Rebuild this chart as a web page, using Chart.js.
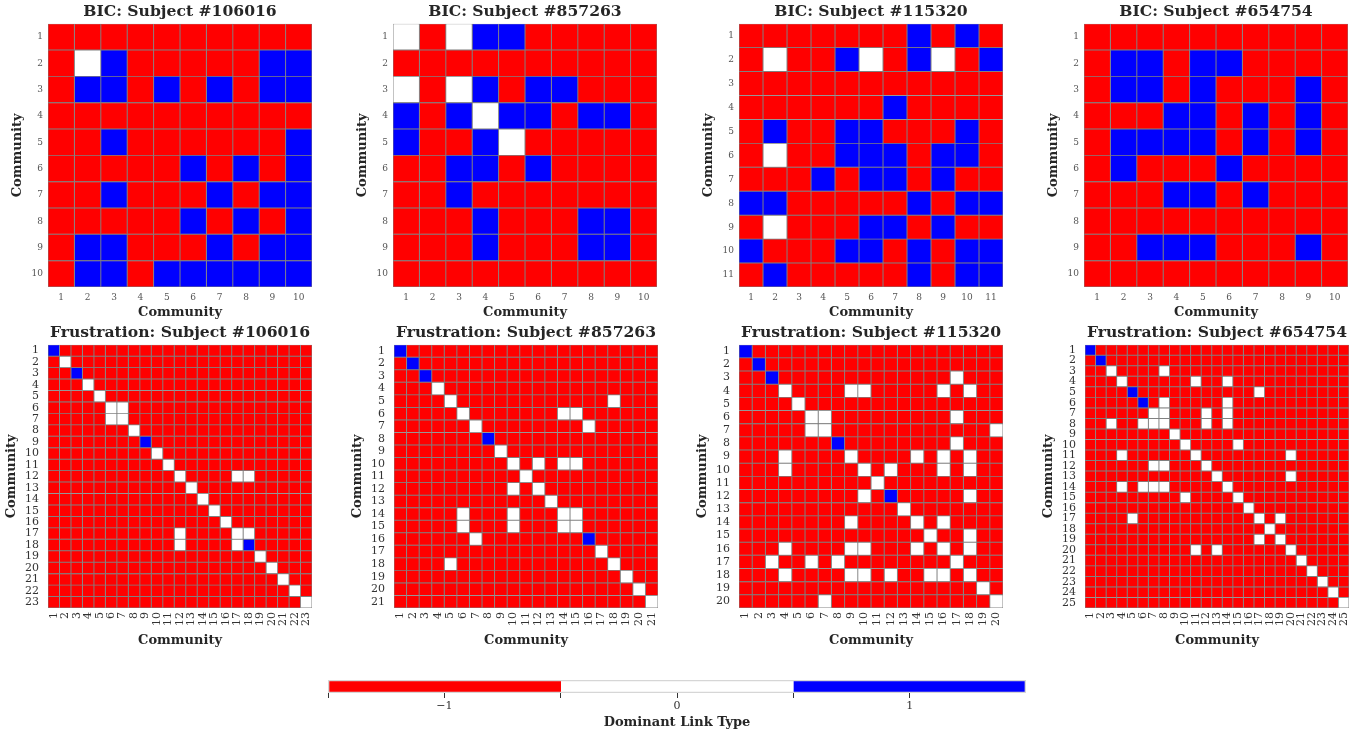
<!DOCTYPE html>
<html>
<head>
<meta charset="utf-8">
<script src="https://cdn.jsdelivr.net/npm/chart.js@4.4.0/dist/chart.umd.min.js"></script>
<style>
  html, body { margin: 0; padding: 0; background: #fff; }
  body { width: 1369px; height: 736px; position: relative; overflow: hidden; }
  canvas { position: absolute; }
</style>
</head>
<body>
<script>
// link types: -1 negative, 0 none, 1 positive
const R = -1, W = 0, B = 1;

const subjects = ['106016', '857263', '115320', '654754'];

const bic106016 = [
  [R,R,R,R,R, R,R,R,R,R],
  [R,W,B,R,R, R,R,R,B,B],
  [R,B,B,R,B, R,B,R,B,B],
  [R,R,R,R,R, R,R,R,R,R],
  [R,R,B,R,R, R,R,R,R,B],
  [R,R,R,R,R, B,R,B,R,B],
  [R,R,B,R,R, R,B,R,B,B],
  [R,R,R,R,R, B,R,B,R,B],
  [R,B,B,R,R, R,B,R,B,B],
  [R,B,B,R,B, B,B,B,B,B]
];

const bic857263 = [
  [W,R,W,B,B, R,R,R,R,R],
  [R,R,R,R,R, R,R,R,R,R],
  [W,R,W,B,R, B,B,R,R,R],
  [B,R,B,W,B, B,R,B,B,R],
  [B,R,R,B,W, R,R,R,R,R],
  [R,R,B,B,R, B,R,R,R,R],
  [R,R,B,R,R, R,R,R,R,R],
  [R,R,R,B,R, R,R,B,B,R],
  [R,R,R,B,R, R,R,B,B,R],
  [R,R,R,R,R, R,R,R,R,R]
];

const bic115320 = [
  [R,R,R,R,R, R,R,B,R,B, R],
  [R,W,R,R,B, W,R,B,W,R, B],
  [R,R,R,R,R, R,R,R,R,R, R],
  [R,R,R,R,R, R,B,R,R,R, R],
  [R,B,R,R,B, B,R,R,R,B, R],
  [R,W,R,R,B, B,B,R,B,B, R],
  [R,R,R,B,R, B,B,R,B,R, R],
  [B,B,R,R,R, R,R,B,R,B, B],
  [R,W,R,R,R, B,B,R,B,R, R],
  [B,R,R,R,B, B,R,B,R,B, B],
  [R,B,R,R,R, R,R,B,R,B, B]
];

const bic654754 = [
  [R,R,R,R,R, R,R,R,R,R],
  [R,B,B,R,B, B,R,R,R,R],
  [R,B,B,R,B, R,R,R,B,R],
  [R,R,R,B,B, R,B,R,B,R],
  [R,B,B,B,B, R,B,R,B,R],
  [R,B,R,R,R, B,R,R,R,R],
  [R,R,R,B,B, R,B,R,R,R],
  [R,R,R,R,R, R,R,R,R,R],
  [R,R,B,B,B, R,R,R,B,R],
  [R,R,R,R,R, R,R,R,R,R]
];

const frus106016 = [
  [B,R,R,R,R, R,R,R,R,R, R,R,R,R,R, R,R,R,R,R, R,R,R],
  [R,W,R,R,R, R,R,R,R,R, R,R,R,R,R, R,R,R,R,R, R,R,R],
  [R,R,B,R,R, R,R,R,R,R, R,R,R,R,R, R,R,R,R,R, R,R,R],
  [R,R,R,W,R, R,R,R,R,R, R,R,R,R,R, R,R,R,R,R, R,R,R],
  [R,R,R,R,W, R,R,R,R,R, R,R,R,R,R, R,R,R,R,R, R,R,R],
  [R,R,R,R,R, W,W,R,R,R, R,R,R,R,R, R,R,R,R,R, R,R,R],
  [R,R,R,R,R, W,W,R,R,R, R,R,R,R,R, R,R,R,R,R, R,R,R],
  [R,R,R,R,R, R,R,W,R,R, R,R,R,R,R, R,R,R,R,R, R,R,R],
  [R,R,R,R,R, R,R,R,B,R, R,R,R,R,R, R,R,R,R,R, R,R,R],
  [R,R,R,R,R, R,R,R,R,W, R,R,R,R,R, R,R,R,R,R, R,R,R],
  [R,R,R,R,R, R,R,R,R,R, W,R,R,R,R, R,R,R,R,R, R,R,R],
  [R,R,R,R,R, R,R,R,R,R, R,W,R,R,R, R,W,W,R,R, R,R,R],
  [R,R,R,R,R, R,R,R,R,R, R,R,W,R,R, R,R,R,R,R, R,R,R],
  [R,R,R,R,R, R,R,R,R,R, R,R,R,W,R, R,R,R,R,R, R,R,R],
  [R,R,R,R,R, R,R,R,R,R, R,R,R,R,W, R,R,R,R,R, R,R,R],
  [R,R,R,R,R, R,R,R,R,R, R,R,R,R,R, W,R,R,R,R, R,R,R],
  [R,R,R,R,R, R,R,R,R,R, R,W,R,R,R, R,W,W,R,R, R,R,R],
  [R,R,R,R,R, R,R,R,R,R, R,W,R,R,R, R,W,B,R,R, R,R,R],
  [R,R,R,R,R, R,R,R,R,R, R,R,R,R,R, R,R,R,W,R, R,R,R],
  [R,R,R,R,R, R,R,R,R,R, R,R,R,R,R, R,R,R,R,W, R,R,R],
  [R,R,R,R,R, R,R,R,R,R, R,R,R,R,R, R,R,R,R,R, W,R,R],
  [R,R,R,R,R, R,R,R,R,R, R,R,R,R,R, R,R,R,R,R, R,W,R],
  [R,R,R,R,R, R,R,R,R,R, R,R,R,R,R, R,R,R,R,R, R,R,W]
];

const frus857263 = [
  [B,R,R,R,R, R,R,R,R,R, R,R,R,R,R, R,R,R,R,R, R],
  [R,B,R,R,R, R,R,R,R,R, R,R,R,R,R, R,R,R,R,R, R],
  [R,R,B,R,R, R,R,R,R,R, R,R,R,R,R, R,R,R,R,R, R],
  [R,R,R,W,R, R,R,R,R,R, R,R,R,R,R, R,R,R,R,R, R],
  [R,R,R,R,W, R,R,R,R,R, R,R,R,R,R, R,R,W,R,R, R],
  [R,R,R,R,R, W,R,R,R,R, R,R,R,W,W, R,R,R,R,R, R],
  [R,R,R,R,R, R,W,R,R,R, R,R,R,R,R, W,R,R,R,R, R],
  [R,R,R,R,R, R,R,B,R,R, R,R,R,R,R, R,R,R,R,R, R],
  [R,R,R,R,R, R,R,R,W,R, R,R,R,R,R, R,R,R,R,R, R],
  [R,R,R,R,R, R,R,R,R,W, R,W,R,W,W, R,R,R,R,R, R],
  [R,R,R,R,R, R,R,R,R,R, W,R,R,R,R, R,R,R,R,R, R],
  [R,R,R,R,R, R,R,R,R,W, R,W,R,R,R, R,R,R,R,R, R],
  [R,R,R,R,R, R,R,R,R,R, R,R,W,R,R, R,R,R,R,R, R],
  [R,R,R,R,R, W,R,R,R,W, R,R,R,W,W, R,R,R,R,R, R],
  [R,R,R,R,R, W,R,R,R,W, R,R,R,W,W, R,R,R,R,R, R],
  [R,R,R,R,R, R,W,R,R,R, R,R,R,R,R, B,R,R,R,R, R],
  [R,R,R,R,R, R,R,R,R,R, R,R,R,R,R, R,W,R,R,R, R],
  [R,R,R,R,W, R,R,R,R,R, R,R,R,R,R, R,R,W,R,R, R],
  [R,R,R,R,R, R,R,R,R,R, R,R,R,R,R, R,R,R,W,R, R],
  [R,R,R,R,R, R,R,R,R,R, R,R,R,R,R, R,R,R,R,W, R],
  [R,R,R,R,R, R,R,R,R,R, R,R,R,R,R, R,R,R,R,R, W]
];

const frus115320 = [
  [B,R,R,R,R, R,R,R,R,R, R,R,R,R,R, R,R,R,R,R],
  [R,B,R,R,R, R,R,R,R,R, R,R,R,R,R, R,R,R,R,R],
  [R,R,B,R,R, R,R,R,R,R, R,R,R,R,R, R,W,R,R,R],
  [R,R,R,W,R, R,R,R,W,W, R,R,R,R,R, W,R,W,R,R],
  [R,R,R,R,W, R,R,R,R,R, R,R,R,R,R, R,R,R,R,R],
  [R,R,R,R,R, W,W,R,R,R, R,R,R,R,R, R,W,R,R,R],
  [R,R,R,R,R, W,W,R,R,R, R,R,R,R,R, R,R,R,R,W],
  [R,R,R,R,R, R,R,B,R,R, R,R,R,R,R, R,W,R,R,R],
  [R,R,R,W,R, R,R,R,W,R, R,R,R,W,R, W,R,W,R,R],
  [R,R,R,W,R, R,R,R,R,W, R,W,R,R,R, W,R,W,R,R],
  [R,R,R,R,R, R,R,R,R,R, W,R,R,R,R, R,R,R,R,R],
  [R,R,R,R,R, R,R,R,R,W, R,B,R,R,R, R,R,W,R,R],
  [R,R,R,R,R, R,R,R,R,R, R,R,W,R,R, R,R,R,R,R],
  [R,R,R,R,R, R,R,R,W,R, R,R,R,W,R, W,R,R,R,R],
  [R,R,R,R,R, R,R,R,R,R, R,R,R,R,W, R,R,W,R,R],
  [R,R,R,W,R, R,R,R,W,W, R,R,R,W,R, W,R,W,R,R],
  [R,R,W,R,R, W,R,W,R,R, R,R,R,R,R, R,W,R,R,R],
  [R,R,R,W,R, R,R,R,W,W, R,W,R,R,W, W,R,W,R,R],
  [R,R,R,R,R, R,R,R,R,R, R,R,R,R,R, R,R,R,W,R],
  [R,R,R,R,R, R,W,R,R,R, R,R,R,R,R, R,R,R,R,W]
];

const frus654754 = [
  [B,R,R,R,R, R,R,R,R,R, R,R,R,R,R, R,R,R,R,R, R,R,R,R,R],
  [R,B,R,R,R, R,R,R,R,R, R,R,R,R,R, R,R,R,R,R, R,R,R,R,R],
  [R,R,W,R,R, R,R,W,R,R, R,R,R,R,R, R,R,R,R,R, R,R,R,R,R],
  [R,R,R,W,R, R,R,R,R,R, W,R,R,W,R, R,R,R,R,R, R,R,R,R,R],
  [R,R,R,R,B, R,R,R,R,R, R,R,R,R,R, R,W,R,R,R, R,R,R,R,R],
  [R,R,R,R,R, B,R,W,R,R, R,R,R,W,R, R,R,R,R,R, R,R,R,R,R],
  [R,R,R,R,R, R,W,W,R,R, R,W,R,W,R, R,R,R,R,R, R,R,R,R,R],
  [R,R,W,R,R, W,W,W,R,R, R,W,R,W,R, R,R,R,R,R, R,R,R,R,R],
  [R,R,R,R,R, R,R,R,W,R, R,R,R,R,R, R,R,R,R,R, R,R,R,R,R],
  [R,R,R,R,R, R,R,R,R,W, R,R,R,R,W, R,R,R,R,R, R,R,R,R,R],
  [R,R,R,W,R, R,R,R,R,R, W,R,R,R,R, R,R,R,R,W, R,R,R,R,R],
  [R,R,R,R,R, R,W,W,R,R, R,W,R,R,R, R,R,R,R,R, R,R,R,R,R],
  [R,R,R,R,R, R,R,R,R,R, R,R,W,R,R, R,R,R,R,W, R,R,R,R,R],
  [R,R,R,W,R, W,W,W,R,R, R,R,R,W,R, R,R,R,R,R, R,R,R,R,R],
  [R,R,R,R,R, R,R,R,R,W, R,R,R,R,W, R,R,R,R,R, R,R,R,R,R],
  [R,R,R,R,R, R,R,R,R,R, R,R,R,R,R, W,R,R,R,R, R,R,R,R,R],
  [R,R,R,R,W, R,R,R,R,R, R,R,R,R,R, R,W,R,W,R, R,R,R,R,R],
  [R,R,R,R,R, R,R,R,R,R, R,R,R,R,R, R,R,W,R,R, R,R,R,R,R],
  [R,R,R,R,R, R,R,R,R,R, R,R,R,R,R, R,W,R,W,R, R,R,R,R,R],
  [R,R,R,R,R, R,R,R,R,R, W,R,W,R,R, R,R,R,R,W, R,R,R,R,R],
  [R,R,R,R,R, R,R,R,R,R, R,R,R,R,R, R,R,R,R,R, W,R,R,R,R],
  [R,R,R,R,R, R,R,R,R,R, R,R,R,R,R, R,R,R,R,R, R,W,R,R,R],
  [R,R,R,R,R, R,R,R,R,R, R,R,R,R,R, R,R,R,R,R, R,R,W,R,R],
  [R,R,R,R,R, R,R,R,R,R, R,R,R,R,R, R,R,R,R,R, R,R,R,W,R],
  [R,R,R,R,R, R,R,R,R,R, R,R,R,R,R, R,R,R,R,R, R,R,R,R,W]
];

const bicMatrices = [bic106016, bic857263, bic115320, bic654754];
const frusMatrices = [frus106016, frus857263, frus115320, frus654754];

// colorbar
const cbValues = [-1, 0, 1];
const cbLabels = ['\u22121', '0', '1'];
const cbTicks = [-1.5, -1, -0.5, 0, 0.5, 1, 1.5];

const colorOf = { '-1': '#ff0000', '0': '#ffffff', '1': '#0000ff' };
const cellLine = '#808080';
const dark = '#262626';

Chart.defaults.font.family = "'DejaVu Serif', serif";

// row styles (top = BIC, bottom = Frustration)
const topRow = {
  lefts: [48, 393, 739, 1084], top: 0, height: 330, yW: 48,
  titlePad: { top: 3, bottom: 2 }, xH: 43, rot: 0, tickSize: 9, tickColor: '#555',
  xTickPad: 5, xTitlePad: 9.2, yTickPad: 5, yTitlePad: 10.2
};
const bottomRow = {
  lefts: [48, 394, 739, 1085], top: 322, height: 338, yW: 48,
  titlePad: { top: 1.4, bottom: 2.6 }, xH: 52, rot: 90, tickSize: 11, tickColor: '#333',
  xTickPad: 4, xTitlePad: 11.2, yTickPad: 9, yTitlePad: 4.2
};
const plotSize = 264;

// keep the plot area fixed: no extra room for edge labels
function noEdgePad(sc) {
  sc.paddingLeft = 0; sc.paddingRight = 0;
  sc.paddingTop = 0; sc.paddingBottom = 0;
}

function heatmap(px, matrix, title, s) {
  const labels = matrix.map((_, i) => String(i + 1));
  const n = labels.length;
  // one floating bar per column, spanning each row
  const datasets = labels.map((_, c) => ({
    data: matrix.map(() => [c + 0.5, c + 1.5]),
    backgroundColor: matrix.map(row => colorOf[row[c]]),
    borderColor: cellLine,
    borderWidth: 0.8,
    borderSkipped: false,
    grouped: false,
    barPercentage: 1,
    categoryPercentage: 1
  }));

  const cv = document.createElement('canvas');
  cv.width = s.yW + plotSize + 4;
  cv.height = s.height;
  cv.style.left = (px - s.yW) + 'px';
  cv.style.top = s.top + 'px';
  document.body.appendChild(cv);

  new Chart(cv, {
    type: 'bar',
    data: { labels: labels, datasets: datasets },
    options: {
      responsive: false,
      animation: false,
      indexAxis: 'y',
      layout: { padding: { left: 0, right: 4, top: 0, bottom: 0 } },
      plugins: {
        legend: { display: false },
        tooltip: { enabled: false },
        title: {
          display: true, text: title, fullSize: false, color: dark,
          font: { size: 15.6, weight: 'bold' }, padding: s.titlePad
        }
      },
      scales: {
        x: {
          type: 'linear', min: 0.5, max: n + 0.5,
          afterBuildTicks: sc => { sc.ticks = labels.map((l, i) => ({ value: i + 1 })); },
          afterFit: sc => { sc.height = s.xH; noEdgePad(sc); },
          grid: { display: false, drawTicks: false },
          border: { display: false },
          ticks: {
            autoSkip: false, minRotation: s.rot, maxRotation: s.rot,
            padding: s.xTickPad, color: s.tickColor, font: { size: s.tickSize },
            callback: (v, i) => labels[i]
          },
          title: {
            display: true, text: 'Community', color: dark,
            font: { size: 13, weight: 'bold' }, padding: { top: 0, bottom: s.xTitlePad }
          }
        },
        y: {
          afterFit: sc => { sc.width = s.yW; noEdgePad(sc); },
          grid: { display: false, drawTicks: false },
          border: { display: false },
          ticks: { autoSkip: false, padding: s.yTickPad, color: s.tickColor, font: { size: s.tickSize } },
          title: {
            display: true, text: 'Community', color: dark,
            font: { size: 13, weight: 'bold' }, padding: { top: s.yTitlePad, bottom: 0 }
          }
        }
      }
    }
  });
}

subjects.forEach((id, k) => {
  heatmap(topRow.lefts[k], bicMatrices[k], 'BIC: Subject #' + id, topRow);
  heatmap(bottomRow.lefts[k], frusMatrices[k], 'Frustration: Subject #' + id, bottomRow);
});

// colorbar
function colorbar() {
  const cv = document.createElement('canvas');
  cv.width = 698;
  cv.height = 58;
  cv.style.left = '328px';
  cv.style.top = '678px';
  document.body.appendChild(cv);

  const segs = cbValues.map(v => ({
    data: [[v - 0.5, v + 0.5]],
    backgroundColor: colorOf[v],
    borderWidth: 0,
    grouped: false, barPercentage: 1, categoryPercentage: 1
  }));
  const outline = {
    data: [[cbTicks[0], cbTicks[cbTicks.length - 1]]],
    backgroundColor: 'rgba(0,0,0,0)',
    borderColor: '#d6d6d6', borderWidth: 1, borderSkipped: false,
    grouped: false, barPercentage: 1, categoryPercentage: 1
  };

  new Chart(cv, {
    type: 'bar',
    data: { labels: [''], datasets: [outline].concat(segs) },
    options: {
      responsive: false,
      animation: false,
      indexAxis: 'y',
      layout: { padding: { left: 0, right: 0, top: 2, bottom: 0 } },
      plugins: { legend: { display: false }, tooltip: { enabled: false } },
      scales: {
        x: {
          type: 'linear', min: cbTicks[0], max: cbTicks[cbTicks.length - 1],
          afterBuildTicks: sc => { sc.ticks = cbTicks.map(v => ({ value: v })); },
          afterFit: sc => { sc.height = 43; noEdgePad(sc); },
          grid: { display: true, drawOnChartArea: false, drawTicks: true, tickLength: 5, color: '#333' },
          border: { display: false },
          ticks: {
            autoSkip: false, maxRotation: 0, padding: 1.5, color: '#333', font: { size: 11 },
            callback: v => { const k = cbValues.indexOf(v); return k >= 0 ? cbLabels[k] : ''; }
          },
          title: {
            display: true, text: 'Dominant Link Type', color: dark,
            font: { size: 13, weight: 'bold' }, padding: { top: 0, bottom: 5.2 }
          }
        },
        y: { display: false }
      }
    }
  });
}
colorbar();
</script>
</body>
</html>
